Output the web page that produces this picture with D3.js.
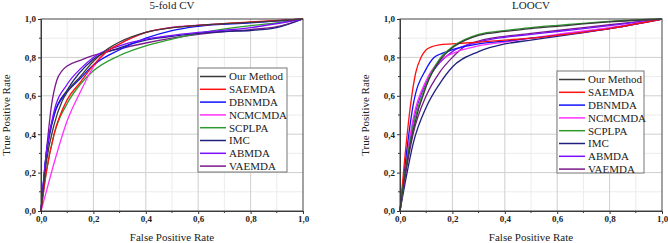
<!DOCTYPE html>
<html><head><meta charset="utf-8">
<script src="https://cdn.jsdelivr.net/npm/d3@7"></script>
<style>
html,body{margin:0;padding:0;background:#fff;}
svg text{font-family:"Liberation Serif","Times New Roman",serif;fill:#222;}
</style></head>
<body><svg id="c" width="668" height="243"></svg>
<script>
const methods = ["Our Method","SAEMDA","DBNMDA","NCMCMDA","SCPLPA","IMC","ABMDA","VAEMDA"];
const colors = ["#3a3a3a","#ff1010","#1010ff","#ff30ff","#2e9a2e","#20207f","#7a10ff","#7a1a8a"];
const tickLabels = ["0,0","0,2","0,4","0,6","0,8","1,0"];
const tickValues = [0,0.2,0.4,0.6,0.8,1.0];
const panelTitles = ["5-fold CV","LOOCV"];

// 5-fold CV curves [fpr, tpr]
const cv5_our     = [[0,0],[0.02,0.25],[0.05,0.45],[0.08,0.57],[0.1,0.62],[0.15,0.7],[0.2,0.78],[0.25,0.84],[0.3,0.88],[0.4,0.93],[0.5,0.955],[0.6,0.967],[0.8,0.982],[0.9,0.99],[1,1]];
const cv5_saemda  = [[0,0],[0.02,0.2],[0.05,0.4],[0.1,0.58],[0.15,0.67],[0.2,0.76],[0.25,0.83],[0.3,0.87],[0.4,0.93],[0.5,0.955],[0.6,0.967],[0.8,0.985],[1,1]];
const cv5_dbnmda  = [[0,0],[0.02,0.3],[0.05,0.5],[0.1,0.62],[0.15,0.69],[0.2,0.76],[0.3,0.84],[0.4,0.9],[0.5,0.94],[0.6,0.962],[0.8,0.98],[1,1]];
const cv5_ncmcmda = [[0,0],[0.02,0.1],[0.05,0.25],[0.1,0.47],[0.15,0.62],[0.2,0.75],[0.25,0.83],[0.3,0.87],[0.4,0.93],[0.5,0.957],[0.6,0.968],[0.8,0.982],[1,1]];
const cv5_scplpa  = [[0,0],[0.02,0.2],[0.05,0.4],[0.1,0.56],[0.15,0.66],[0.2,0.73],[0.3,0.81],[0.4,0.86],[0.5,0.895],[0.6,0.925],[0.8,0.965],[0.9,0.98],[1,1]];
const cv5_imc     = [[0,0],[0.02,0.28],[0.05,0.5],[0.1,0.63],[0.2,0.79],[0.3,0.85],[0.4,0.89],[0.5,0.91],[0.6,0.925],[0.7,0.935],[0.8,0.94],[0.9,0.955],[1,1]];
const cv5_abmda   = [[0,0],[0.02,0.3],[0.05,0.52],[0.1,0.66],[0.15,0.74],[0.2,0.8],[0.3,0.86],[0.4,0.895],[0.5,0.915],[0.6,0.93],[0.8,0.955],[1,1]];
const cv5_vaemda  = [[0,0],[0.02,0.3],[0.04,0.55],[0.06,0.68],[0.08,0.73],[0.1,0.755],[0.15,0.785],[0.2,0.81],[0.3,0.845],[0.4,0.875],[0.5,0.9],[0.6,0.92],[0.7,0.935],[0.8,0.945],[0.9,0.96],[1,1]];

// LOOCV curves [fpr, tpr]
const loo_our     = [[0,0],[0.02,0.2],[0.05,0.42],[0.1,0.65],[0.15,0.78],[0.2,0.85],[0.25,0.89],[0.3,0.915],[0.4,0.935],[0.5,0.95],[0.6,0.962],[0.8,0.985],[1,1]];
const loo_saemda  = [[0,0],[0.02,0.3],[0.04,0.55],[0.06,0.72],[0.08,0.8],[0.1,0.84],[0.12,0.855],[0.15,0.865],[0.2,0.87],[0.3,0.88],[0.4,0.89],[0.5,0.9],[0.6,0.915],[0.8,0.95],[1,1]];
const loo_dbnmda  = [[0,0],[0.02,0.25],[0.05,0.55],[0.1,0.74],[0.13,0.8],[0.15,0.815],[0.2,0.84],[0.3,0.87],[0.4,0.885],[0.5,0.9],[0.6,0.915],[0.8,0.95],[1,1]];
const loo_ncmcmda = [[0,0],[0.02,0.22],[0.05,0.48],[0.1,0.68],[0.15,0.78],[0.2,0.82],[0.3,0.86],[0.4,0.88],[0.5,0.9],[0.6,0.92],[0.8,0.955],[1,1]];
const loo_scplpa  = [[0,0],[0.02,0.21],[0.05,0.44],[0.1,0.66],[0.15,0.79],[0.2,0.855],[0.3,0.92],[0.4,0.94],[0.5,0.955],[0.6,0.967],[0.8,0.988],[1,1]];
const loo_imc     = [[0,0],[0.02,0.15],[0.05,0.35],[0.1,0.54],[0.15,0.66],[0.2,0.75],[0.3,0.83],[0.4,0.87],[0.5,0.89],[0.6,0.91],[0.8,0.95],[1,1]];
const loo_abmda   = [[0,0],[0.02,0.2],[0.05,0.46],[0.1,0.67],[0.15,0.77],[0.2,0.83],[0.3,0.88],[0.4,0.905],[0.5,0.92],[0.6,0.935],[0.8,0.965],[1,1]];
const loo_vaemda  = [[0,0],[0.02,0.18],[0.05,0.4],[0.1,0.6],[0.15,0.72],[0.2,0.8],[0.25,0.86],[0.3,0.885],[0.4,0.91],[0.5,0.925],[0.6,0.94],[0.8,0.97],[1,1]];

const panels = [
  {title: panelTitles[0], x0: 41, x1: 303, legend: {x: 198, y: 68, w: 89, h: 104},
   series: [cv5_our,cv5_saemda,cv5_dbnmda,cv5_ncmcmda,cv5_scplpa,cv5_imc,cv5_abmda,cv5_vaemda],
   order: [7,4,5,3,2,6,1,0], ytitleX: 6},
  {title: panelTitles[1], x0: 400, x1: 662, legend: {x: 557, y: 71, w: 87, h: 102},
   series: [loo_our,loo_saemda,loo_dbnmda,loo_ncmcmda,loo_scplpa,loo_imc,loo_abmda,loo_vaemda],
   order: [5,7,6,3,2,1,4,0], ytitleX: 365}
];
const yTop = 19, yBot = 211;
const svg = d3.select("#c");

panels.forEach(p => {
  const x = d3.scaleLinear().domain([0,1]).range([p.x0, p.x1]);
  const y = d3.scaleLinear().domain([0,1]).range([yBot, yTop]);
  const g = svg.append("g");
  const minor = d3.range(0.1, 1.0, 0.2);
  g.selectAll(".mgx").data(minor).join("line")
    .attr("x1", d=>x(d)).attr("x2", d=>x(d)).attr("y1", yTop).attr("y2", yBot)
    .attr("stroke", "#ececec").attr("stroke-width", 1);
  g.selectAll(".mgy").data(minor).join("line")
    .attr("y1", d=>y(d)).attr("y2", d=>y(d)).attr("x1", p.x0).attr("x2", p.x1)
    .attr("stroke", "#ececec").attr("stroke-width", 1);
  const major = [0.2,0.4,0.6,0.8];
  g.selectAll(".gx").data(major).join("line")
    .attr("x1", d=>x(d)).attr("x2", d=>x(d)).attr("y1", yTop).attr("y2", yBot)
    .attr("stroke", "#cfcfcf").attr("stroke-width", 1);
  g.selectAll(".gy").data(major).join("line")
    .attr("y1", d=>y(d)).attr("y2", d=>y(d)).attr("x1", p.x0).attr("x2", p.x1)
    .attr("stroke", "#cfcfcf").attr("stroke-width", 1);

  const line = d3.line().x(d=>x(d[0])).y(d=>y(d[1])).curve(d3.curveMonotoneX);
  p.order.forEach(i => {
    g.append("path").attr("d", line(p.series[i])).attr("fill","none")
      .attr("stroke", colors[i]).attr("stroke-width", 1.3);
  });

  const fmt = d => tickLabels[tickValues.findIndex(v => Math.abs(v-d)<1e-6)];
  const xa = d3.axisBottom(x).tickValues(tickValues).tickFormat(fmt).tickSize(3).tickPadding(2);
  const ya = d3.axisLeft(y).tickValues(tickValues).tickFormat(fmt).tickSize(3).tickPadding(2);
  const gx = g.append("g").attr("transform", `translate(0,${yBot})`).call(xa);
  const gy = g.append("g").attr("transform", `translate(${p.x0},0)`).call(ya);
  const mt = d3.range(0.1, 1.0, 0.2);
  g.selectAll(".mtx").data(mt).join("line")
    .attr("x1", d=>x(d)).attr("x2", d=>x(d)).attr("y1", yBot).attr("y2", yBot+2)
    .attr("stroke", "#333");
  g.selectAll(".mty").data(mt).join("line")
    .attr("y1", d=>y(d)).attr("y2", d=>y(d)).attr("x1", p.x0).attr("x2", p.x0-2)
    .attr("stroke", "#333");
  [gx, gy].forEach(a => {
    a.select(".domain").attr("stroke", "#333");
    a.selectAll(".tick line").attr("stroke", "#333");
    a.selectAll("text").attr("font-size", 9).attr("font-weight", "bold").attr("fill", "#222");
  });
  g.append("rect").attr("x", p.x0).attr("y", yTop).attr("width", p.x1-p.x0).attr("height", yBot-yTop)
    .attr("fill","none").attr("stroke","#444").attr("stroke-width",1);

  g.append("text").attr("x", (p.x0+p.x1)/2).attr("y", 9).attr("text-anchor","middle")
    .attr("font-size", 11).text(p.title);
  g.append("text").attr("x", (p.x0+p.x1)/2).attr("y", 241).attr("text-anchor","middle")
    .attr("font-size", 11).text("False Positive Rate");
  g.append("text").attr("transform", `translate(${p.ytitleX},${(yTop+yBot)/2}) rotate(-90)`)
    .attr("text-anchor","middle").attr("dy", "0.35em").attr("font-size", 11).text("True Positive Rate");

  const L = p.legend;
  g.append("rect").attr("x", L.x).attr("y", L.y).attr("width", L.w).attr("height", L.h)
    .attr("fill","#fff").attr("stroke","#777").attr("stroke-width",1);
  methods.forEach((m,i) => {
    const ry = L.y + 8.5 + i*12.8;
    g.append("line").attr("x1", L.x+2).attr("x2", L.x+28).attr("y1", ry).attr("y2", ry)
      .attr("stroke", colors[i]).attr("stroke-width", 1.5);
    g.append("text").attr("x", L.x+31).attr("y", ry).attr("dy","0.35em")
      .attr("font-size", 11).text(m);
  });
});
</script></body></html>
